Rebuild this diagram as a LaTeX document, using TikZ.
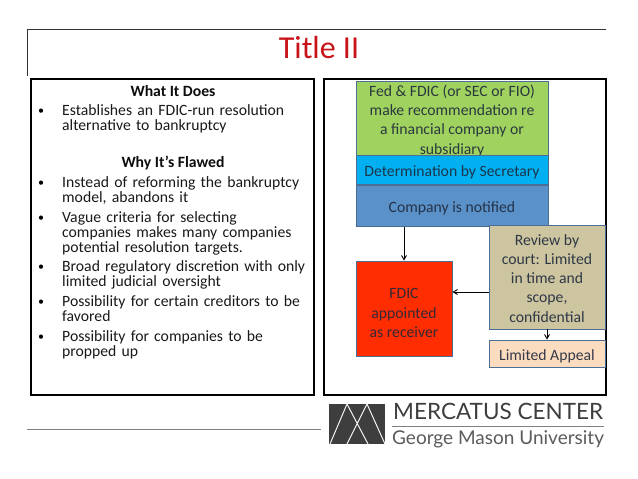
\documentclass[tikz,border=0pt]{standalone}
\usepackage{fontspec}
\setmainfont{Carlito}
\newfontfamily\logofont{Lato}
\usepackage{xcolor}
\usetikzlibrary{positioning,arrows}
\definecolor{titlered}{RGB}{200,20,25}
\definecolor{boxline}{RGB}{75,110,150}
\definecolor{flowink}{RGB}{30,40,60}
\definecolor{recgreen}{RGB}{160,210,95}
\definecolor{detcyan}{RGB}{0,176,240}
\definecolor{notblue}{RGB}{90,145,200}
\definecolor{fdicred}{RGB}{255,45,0}
\definecolor{reviewtan}{RGB}{204,197,160}
\definecolor{appealpeach}{RGB}{252,220,190}
\definecolor{logogray}{RGB}{62,62,62}
\def\panelA{(31,79) rectangle (314,395)}
\def\panelB{(324,79) rectangle (606,395)}
\def\logobox{(329,404) rectangle (385,444)}
\tikzset{
panel/.style={draw=black, line width=1.6pt},
flowbox/.style={draw=boxline, line width=.8pt, inner sep=0pt, align=center, text height=13pt, text depth=0pt, font=\fontsize{15.7}{19.2}\selectfont, text=flowink, text opacity=.9},
itemtext/.style={anchor=north west, inner sep=0pt, align=left, text width=250pt, font=\fontsize{15.7}{15}\selectfont, text=black!90},
itemhead/.style={inner sep=0pt, font=\fontsize{15.7}{15}\selectfont\bfseries, text=black!95},
bulletmark/.style={inner sep=0pt, font=\fontsize{12}{14}\selectfont},
flowarrow/.style={->, >=angle 60, line width=.9pt}
}
\begin{document}
\begin{tikzpicture}[x=1pt,y=-1pt]
	\useasboundingbox (0,0) rectangle (638,479);
	\draw[black!80, thin] (27,76) -- (27,29) -- (606,29);
	\draw[gray, line width=1pt] (27,429) -- (321,429);
	\node[text=titlered, font=\fontsize{32}{36}\selectfont] (title) at (319,48) {Title II};
	\draw[panel] \panelA \panelB;
	% left panel
	\node[itemhead] (does) at (173,91) {What It Does};
	\node[itemtext] (itemA) at (62,104) {Establishes an FDIC-run resolution\\alternative to bankruptcy};
	\node[itemhead] (flawed) at (173,163) {Why It’s Flawed};
	\node[itemtext] (itemB) at (62,176) {Instead of reforming the bankruptcy\\model, abandons it};
	\node[itemtext] (itemC) at (62,211) {Vague criteria for selecting\\companies makes many companies\\potential resolution targets.};
	\node[itemtext] (itemD) at (62,260) {Broad regulatory discretion with only\\limited judicial oversight};
	\node[itemtext] (itemE) at (62,295) {Possibility for certain creditors to be\\favored};
	\node[itemtext] (itemF) at (62,330) {Possibility for companies to be\\propped up};
	\node[bulletmark] (bulletA) at (41,112) {•};
	\node[bulletmark] (bulletB) at (41,184) {•};
	\node[bulletmark] (bulletC) at (41,219) {•};
	\node[bulletmark] (bulletD) at (41,268) {•};
	\node[bulletmark] (bulletE) at (41,303) {•};
	\node[bulletmark] (bulletF) at (41,338) {•};
	% right panel
	\node[flowbox, fill=recgreen, minimum width=192pt, minimum height=74pt, text height=72pt] (recommend) at (452,118) {Fed \& FDIC (or SEC or FIO)\\make recommendation re\\a financial company or\\subsidiary};
	\node[flowbox, fill=detcyan, minimum width=192pt, minimum height=29pt, below=0pt of recommend] (secretary) {Determination by Secretary};
	\node[flowbox, fill=notblue, minimum width=192pt, minimum height=41pt, below=0pt of secretary] (notified) {Company is notified};
	\node[flowbox, fill=fdicred, minimum width=96pt, minimum height=95pt, text height=57.5pt] (fdic) at (404,308.5) {FDIC\\appointed\\as receiver};
	\node[flowbox, fill=reviewtan, minimum width=116pt, minimum height=104pt, text height=90pt] (review) at (547,277) {Review by\\court: Limited\\in time and\\scope,\\confidential};
	\node[flowbox, fill=appealpeach, minimum width=116pt, minimum height=27pt, text height=14pt] (appeal) at (547,353.5) {Limited Appeal};
	\coordinate (reviewout) at (489,292);
	\draw[flowarrow] (notified.south -| fdic) -- (fdic);
	\draw[flowarrow] (reviewout) -- (reviewout -| fdic.east);
	\draw[flowarrow] (review) -- (appeal);
	% logo
	\fill[logogray] \logobox;
	\draw[white!90!gray, line width=1pt] (330,444) -- (347,404) -- (368,444) (347,444) -- (367,404) -- (385,444);
	\node[anchor=base west, inner sep=0pt, text=logogray, font=\logofont\fontsize{22.5}{24}\selectfont] (mercatus) at (393,419) {MERCATUS CENTER};
	\draw[gray, line width=1pt] (392,426) -- (604,426);
	\node[anchor=base west, inner sep=0pt, text=logogray!85, font=\logofont\fontsize{19}{24}\selectfont] (mason) at (392,444) {George Mason University};
\end{tikzpicture}
\end{document}
